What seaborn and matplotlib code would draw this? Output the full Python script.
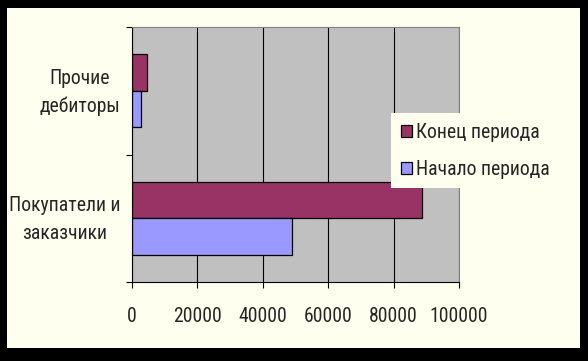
import matplotlib
matplotlib.use("Agg")
import matplotlib.pyplot as plt
import matplotlib.transforms as mtransforms
import seaborn as sns
import pandas as pd
from matplotlib.patches import Rectangle

# данные
categories = ["Прочие\nдебиторы", "Покупатели и\nзаказчики"]
periods = ["Конец периода", "Начало периода"]
end_values = [4500, 88600]
start_values = [2650, 48800]
x_ticks = [0, 20000, 40000, 60000, 80000, 100000]
colors = ["#993366", "#9999FF"]

df = pd.DataFrame({
    "category": categories * 2,
    "period": [periods[0]] * 2 + [periods[1]] * 2,
    "value": end_values + start_values,
})

sns.set_style("white")
plt.rcParams["font.family"] = ["Liberation Sans Narrow", "Roboto Condensed", "Liberation Sans", "DejaVu Sans"]
fs = 14.2

W, H = 588, 361
fig = plt.figure(figsize=(W / 100, H / 100), dpi=100)
fig.patch.set_facecolor("black")
fig.add_artist(Rectangle((7 / W, 13 / H), (580 - 7) / W, (353 - 13) / H,
                         transform=fig.transFigure, facecolor="#FFFFF0",
                         edgecolor="none", zorder=0))

ax = fig.add_axes([132 / W, 1 - 282 / H, (459 - 132) / W, (282 - 27) / H])
sns.barplot(data=df, y="category", x="value", hue="period", order=categories,
            hue_order=periods, palette=colors, edgecolor="black", linewidth=0.9,
            width=0.57, saturation=1, ax=ax)

ax.set_facecolor("#C0C0C0")
ax.set_xlim(0, 100000)
ax.set_ylim(1.5, -0.5)
ax.set_xticks(x_ticks)
ax.set_xticklabels([str(t) for t in x_ticks], fontsize=fs)
ax.set_yticks([0, 1])
ax.set_yticklabels(categories, fontsize=fs, ma="center", linespacing=1.6)
ax.set_yticks([-0.5, 0.5, 1.5], minor=True)
ax.xaxis.grid(True, color="black", linewidth=0.8)
ax.set_axisbelow(True)
ax.set_xlabel("")
ax.set_ylabel("")

ax.tick_params(axis="y", which="major", left=False, pad=5)
ax.tick_params(axis="y", which="minor", left=True, length=4, width=0.8, color="black")
ax.tick_params(axis="x", bottom=True, length=4, width=0.8, color="black", pad=14)

# подписи категорий чуть выше
shift = mtransforms.ScaledTranslation(0, 5 / 100, fig.dpi_scale_trans)
for lab in ax.get_yticklabels():
    lab.set_transform(lab.get_transform() + shift)

for s in ["left", "bottom"]:
    ax.spines[s].set_color("black")
    ax.spines[s].set_linewidth(0.8)
for s in ["top", "right"]:
    ax.spines[s].set_color("#808080")
    ax.spines[s].set_linewidth(0.8)

handles, labels = ax.get_legend_handles_labels()
ax.get_legend().remove()
fig.legend(handles, labels, loc="upper left", bbox_to_anchor=(391 / W, 1 - 113 / H),
           fontsize=fs, frameon=True, facecolor="#FFFFF0", edgecolor="none",
           framealpha=1, fancybox=False, borderaxespad=0, borderpad=0.5,
           handlelength=0.55, handleheight=0.55, handletextpad=0.2, labelspacing=0.9)

fig.savefig("out.png", dpi=100, facecolor=fig.get_facecolor())
